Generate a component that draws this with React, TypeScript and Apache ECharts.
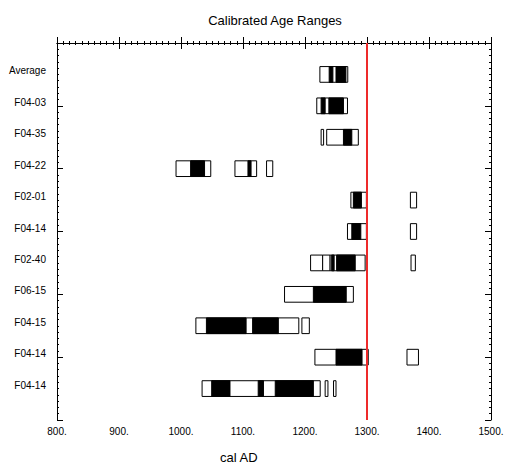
import React, { useEffect, useRef } from "react";
import * as echarts from "echarts";

const rowLabels = [
  "Average", "F04-03", "F04-35", "F04-22", "F02-01", "F04-14",
  "F02-40", "F06-15", "F04-15", "F04-14", "F04-14",
];

// 2-sigma ranges: [row, start, end]
const twoSigma: number[][] = [
  [1, 1224, 1269],
  [2, 1219, 1268.5],
  [3, 1226, 1230], [3, 1235, 1286],
  [4, 992, 1048], [4, 1087, 1122], [4, 1138, 1148],
  [5, 1274, 1299], [5, 1370, 1380],
  [6, 1268.5, 1299], [6, 1370, 1380],
  [7, 1209, 1228.5], [7, 1228.5, 1240.5], [7, 1240.5, 1297], [7, 1371, 1378],
  [8, 1167, 1278],
  [9, 1024, 1190], [9, 1195, 1207],
  [10, 1216, 1302], [10, 1364.5, 1383],
  [11, 1034, 1224.5], [11, 1232.5, 1237], [11, 1246, 1250],
];

// 1-sigma ranges: [row, start, end]
const oneSigma: number[][] = [
  [1, 1239, 1245], [1, 1250, 1266],
  [2, 1226, 1232.5], [2, 1238.5, 1262],
  [3, 1262, 1275.5],
  [4, 1015.5, 1038], [4, 1108, 1113],
  [5, 1278, 1291],
  [6, 1275.5, 1290],
  [7, 1243, 1247], [7, 1251, 1281],
  [8, 1213.5, 1266.5],
  [9, 1041, 1105], [9, 1115.5, 1157],
  [10, 1250, 1292],
  [11, 1049.5, 1079], [11, 1124.5, 1133], [11, 1152, 1213.5],
];

const referenceYear = 1300;

const FONT = "'Liberation Sans', Arial, sans-serif";

function makeRender(fill: string) {
  return (params: any, api: any) => {
    const s = api.coord([api.value(1), api.value(0)]);
    const e = api.coord([api.value(2), api.value(0)]);
    const h = api.size([0, 1])[1] * 0.5;
    return {
      type: "rect",
      shape: { x: s[0], y: s[1] - h / 2, width: e[0] - s[0], height: h },
      style: { fill, stroke: "#000", lineWidth: 1 },
    };
  };
}

export default function App() {
  const ref = useRef<HTMLDivElement>(null);
  useEffect(() => {
    if (!ref.current) return;
    const chart = echarts.init(ref.current, null, { renderer: "svg" });
    const xBase = {
      type: "value",
      min: 800,
      max: 1500,
      interval: 100,
      splitLine: { show: false },
      axisLine: { lineStyle: { color: "#000", width: 1 } },
      axisTick: { inside: true, length: 6, lineStyle: { color: "#000" } },
      minorTick: { show: true, splitNumber: 10, length: 2, lineStyle: { color: "#000" } },
    };
    const yBase = {
      type: "value",
      min: 0,
      max: 12,
      interval: 2,
      inverse: true,
      splitLine: { show: false },
      axisLine: { show: true, lineStyle: { color: "#000", width: 1 } },
      axisTick: { inside: true, length: 6, lineStyle: { color: "#000" } },
      minorTick: { show: true, splitNumber: 10, length: 2, lineStyle: { color: "#000" } },
      axisLabel: { show: false },
    };
    chart.setOption({
      animation: false,
      backgroundColor: "#fff",
      textStyle: { fontFamily: FONT },
      title: {
        text: "Calibrated Age Ranges",
        left: 270,
        top: 9,
        textAlign: "center",
        textStyle: { fontFamily: FONT, fontSize: 13, fontWeight: "normal", color: "#000" },
      },
      grid: { left: 57, right: 19, top: 43, bottom: 47 },
      xAxis: [
        {
          ...xBase,
          position: "bottom",
          axisLabel: {
            formatter: (v: number) => v + ".",
            fontFamily: FONT,
            fontSize: 10,
            color: "#000",
            margin: 6,
          },
        },
        { ...xBase, position: "top", axisLabel: { show: false } },
      ],
      yAxis: [
        { ...yBase, position: "left" },
        {
          type: "value",
          min: 0,
          max: 12,
          interval: 1,
          inverse: true,
          position: "left",
          splitLine: { show: false },
          axisLine: { show: false },
          axisTick: { show: false },
          axisLabel: {
            formatter: (v: number) => rowLabels[v - 1] ?? "",
            fontFamily: FONT,
            fontSize: 10,
            color: "#000",
            margin: 11,
            verticalAlign: "bottom",
            lineHeight: 7,
          },
        },
        { ...yBase, position: "right" },
      ],
      graphic: [
        {
          type: "text",
          left: 220,
          top: 451,
          style: { text: "cal AD", font: `13px ${FONT}`, fill: "#000" },
        },
      ],
      series: [
        {
          type: "custom",
          name: "2 sigma",
          xAxisIndex: 0,
          yAxisIndex: 0,
          renderItem: makeRender("#fff"),
          encode: { x: [1, 2], y: 0 },
          data: twoSigma,
          z: 2,
          markLine: {
            silent: true,
            symbol: ["none", "none"],
            label: { show: false },
            lineStyle: { color: "#ee2a2a", width: 2, type: "solid" },
            data: [{ xAxis: referenceYear }],
          },
        },
        {
          type: "custom",
          name: "1 sigma",
          xAxisIndex: 0,
          yAxisIndex: 0,
          renderItem: makeRender("#000"),
          encode: { x: [1, 2], y: 0 },
          data: oneSigma,
          z: 3,
        },
      ],
    });
    return () => chart.dispose();
  }, []);
  return (
    <div
      ref={ref}
      style={{ position: "fixed", left: 0, top: 0, width: 510, height: 467 }}
    />
  );
}
